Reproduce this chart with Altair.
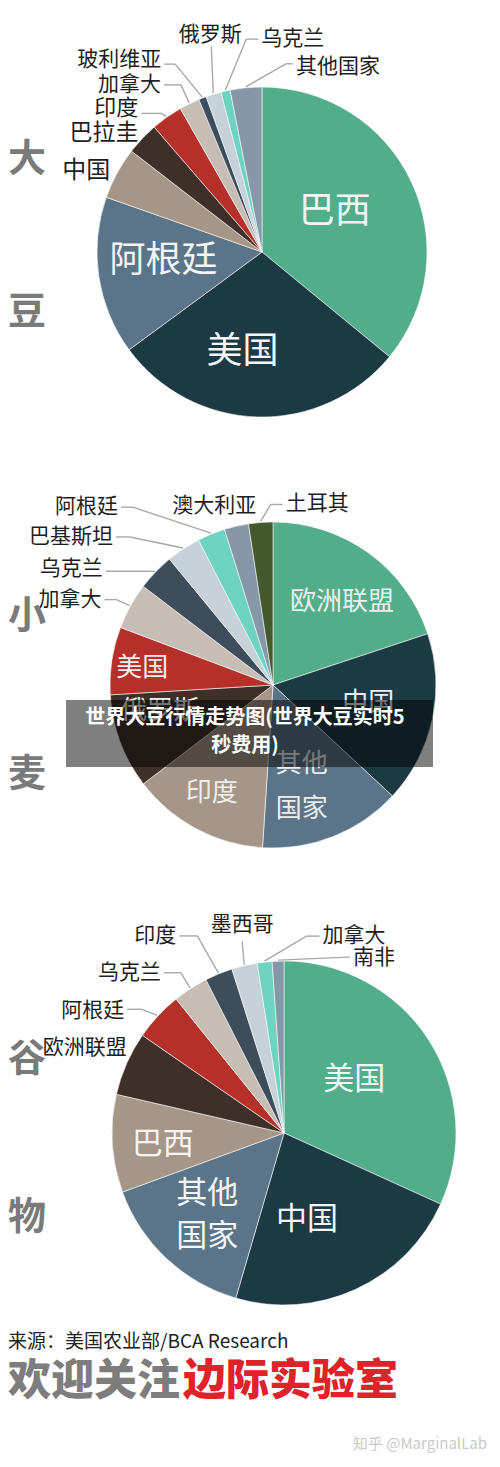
import altair as alt
import pandas as pd

OFF = 8
W, H = 484, 1451
FONT = "Noto Sans CJK SC"
LINE = "#a9a9a9"
DARK = "#1e1e1e"

PALETTE = ["#52ae8a", "#1c3a43", "#5a7489", "#a69687", "#3e3028", "#b6302a",
           "#c6bdb5", "#3e4d5b", "#c6d1d9", "#6fd3c1", "#8597a8", "#43592e"]

# ---------------- data ----------------
side_titles = ["大豆", "小麦", "谷物"]

soy_names = ["巴西", "美国", "阿根廷", "中国", "巴拉圭", "印度", "加拿大",
             "玻利维亚", "俄罗斯", "乌克兰", "其他国家"]
soy_values = [36.0, 29.0, 15.5, 5.1, 3.2, 3.1, 2.0, 0.75, 1.5, 0.9, 3.1]

wheat_names = ["欧洲联盟", "中国", "其他国家", "印度", "俄罗斯", "美国", "加拿大",
               "乌克兰", "巴基斯坦", "阿根廷", "澳大利亚", "土耳其"]
wheat_values = [19.9, 17.0, 14.1, 13.6, 9.4, 6.7, 4.6, 3.7, 3.4, 2.75, 2.4, 2.4]

grain_names = ["美国", "中国", "其他国家", "巴西", "欧洲联盟", "阿根廷", "乌克兰",
               "印度", "墨西哥", "加拿大", "南非"]
grain_values = [31.8, 22.75, 14.9, 9.2, 6.0, 4.6, 3.3, 2.6, 2.4, 1.4, 1.1]

source_text = "来源：美国农业部/BCA Research"
follow_grey = "欢迎关注"
follow_red = "边际实验室"
watermark = "知乎 @MarginalLab"
banner_text = "世界大豆行情走势图(世界大豆实时5|秒费用)"

# ---------------- layout (positions / styles only) ----------------
PIES = [
    dict(names=soy_names, values=soy_values, cx=262, cy=252, R=165,
         title=(27, 160, 313), in_size=36, out_size=21, in_color="#f5f5f5",
         inside={"巴西": (83, -3.5, None, None), "美国": (102, 9.5, None, None),
                 "阿根廷": (99, 3.5, None, None)},
         outside={
             "中国": dict(e=None, lx=-6, dy=-2, align="right", size=24),
             "巴拉圭": dict(e=None, lx=-3, dy=-5, align="right", size=23),
             "印度": dict(e=(-5, -3), lx=-28, dy=-5, align="right", size=22),
             "加拿大": dict(e=(-8, -18), lx=-28, dy=0, align="right"),
             "玻利维亚": dict(e=(-27, -33), lx=-41, dy=-4, align="right"),
             "俄罗斯": dict(e=(-2, -47), lx=-3, dy=-11, align="center"),
             "乌克兰": dict(e=(21, -51), lx=36, dy=0, align="left"),
             "其他国家": dict(e=(40, -23), lx=50, dy=3, align="left"),
         }),
    dict(names=wheat_names, values=wheat_values, cx=273, cy=685, R=163,
         title=(27, 617, 775), in_size=26, out_size=21, in_color="#eeeeee",
         inside={"欧洲联盟": (108, 3.9, None, None), "中国": (97, -1.5, None, None),
                 "其他国家": (106, 5.9, 2, 45), "印度": (124, 1.4, None, None),
                 "俄罗斯": (116, 7.5, None, None), "美国": (132, -1.1, None, None)},
         outside={
             "加拿大": dict(e=(-13, -6), lx=-28, dy=0, align="right"),
             "乌克兰": dict(e=(-5, 0), lx=-52, dy=-2, align="right"),
             "巴基斯坦": dict(e=(-53, -11), lx=-70, dy=0, align="right"),
             "阿根廷": dict(e=(-78, -26), lx=-93, dy=0, align="right"),
             "澳大利亚": dict(e=None, lx=-22, dy=-19, align="center"),
             "土耳其": dict(e=(10, -17), lx=25, dy=0, align="left"),
         }),
    dict(names=grain_names, values=grain_values, cx=284, cy=1133, R=172,
         title=(27, 1060, 1218), in_size=31, out_size=21, in_color="#f5f5f5",
         inside={"美国": (88, -4.3, None, None), "中国": (90, 9.8, None, None),
                 "其他国家": (113, -0.3, 2, 43), "巴西": (122, -2.3, None, None)},
         outside={
             "欧洲联盟": dict(e=None, lx=1, dy=-15, align="right"),
             "阿根廷": dict(e=(-15, -6), lx=-33, dy=2, align="right"),
             "乌克兰": dict(e=(-9, -15), lx=-29, dy=0, align="right"),
             "印度": dict(e=(-21, -37), lx=-42, dy=0, align="right"),
             "墨西哥": dict(e=(-2, -23), lx=-2, dy=-17, align="center"),
             "加拿大": dict(e=(42, -25), lx=58, dy=0, align="left"),
             "南非": dict(e=(70, -3), lx=75, dy=1, align="left"),
         }),
]

color_scale = alt.Scale(domain=list(range(len(PALETTE))), range=PALETTE)


def X(f):
    return alt.X(f, scale=None, axis=None)


def Y(f):
    return alt.Y(f, scale=None, axis=None)


def pie_df(names, values):
    return pd.DataFrame({"country": names, "value": values,
                         "rank": list(range(len(names)))})


def base(df):
    return (alt.Chart(df)
            .transform_joinaggregate(total="sum(value)")
            .transform_window(cum="sum(value)", sort=[alt.SortField("rank")])
            .transform_calculate(mid="2*PI*(datum.cum - datum.value/2)/datum.total"))


def inside_layer(df, cx, cy, country, r, da, size, color, split, lh):
    shift = lh / 2 if split else 0
    b = (base(df).transform_filter(alt.datum.country == country)
         .transform_calculate(a=f"datum.mid + ({da})*PI/180")
         .transform_calculate(tx=f"{cx - OFF} + {r}*sin(datum.a)",
                              ty=f"{cy - OFF} - {r}*cos(datum.a) - {shift}"))
    mk = {}
    if split:
        b = b.transform_calculate(
            lab=f"substring(datum.country,0,{split}) + '|' + substring(datum.country,{split})")
        mk = dict(lineBreak="|", lineHeight=lh)
    else:
        b = b.transform_calculate(lab="datum.country")
    return b.mark_text(align="center", baseline="middle", fontSize=size, color=color,
                       font=FONT, **mk).encode(x=X("tx:Q"), y=Y("ty:Q"), text="lab:N")


def outside_layers(df, cx, cy, R, country, spec, size):
    e = spec["e"]
    ex, ey = e if e else (0, 0)
    align = spec["align"]
    size = spec.get("size", size)
    b = (base(df).transform_filter(alt.datum.country == country)
         .transform_calculate(x0=f"{cx - OFF} + {R + 1}*sin(datum.mid)",
                              y0=f"{cy - OFF} - {R + 1}*cos(datum.mid)")
         .transform_calculate(x1=f"datum.x0 + ({ex})", y1=f"datum.y0 + ({ey})",
                              tx=f"datum.x0 + ({spec['lx']})",
                              ty=f"datum.y0 + ({ey + spec['dy']})"))
    out = []
    if e:
        if align == "left":
            endx = "datum.tx - 3"
        elif align == "right":
            endx = "datum.tx + 3"
        else:
            endx = "datum.x1"
        b2 = b.transform_calculate(x2=endx)
        out.append(b2.mark_rule(color=LINE, strokeWidth=1.4).encode(
            x=X("x0:Q"), y=Y("y0:Q"), x2="x1:Q", y2="y1:Q"))
        out.append(b2.mark_rule(color=LINE, strokeWidth=1.4).encode(
            x=X("x1:Q"), y=Y("y1:Q"), x2="x2:Q", y2="y1:Q"))
    out.append(b.mark_text(align=align, baseline="middle", fontSize=size, color=DARK,
                           font=FONT).encode(x=X("tx:Q"), y=Y("ty:Q"), text="country:N"))
    return out


def one_text(text, x, y, size, color, align="left", weight="normal", **kw):
    return alt.Chart(pd.DataFrame({"t": [text]})).mark_text(
        align=align, baseline="middle", fontSize=size, color=color, font=FONT,
        fontWeight=weight, **kw).encode(x=alt.value(x - OFF), y=alt.value(y - OFF), text="t:N")


layers = []
for p, title in zip(PIES, side_titles):
    df = pie_df(p["names"], p["values"])
    layers.append(alt.Chart(df).mark_arc(outerRadius=p["R"], stroke="#ffffff",
                                         strokeWidth=0.7, strokeOpacity=0.8).encode(
        theta=alt.Theta("value:Q", stack="normalize"),
        color=alt.Color("rank:O", scale=color_scale, legend=None),
        order=alt.Order("rank:Q"),
        x=alt.value(p["cx"] - OFF), y=alt.value(p["cy"] - OFF)))
    for c, (r, da, split, lh) in p["inside"].items():
        layers.append(inside_layer(df, p["cx"], p["cy"], c, r, da, p["in_size"],
                                   p["in_color"], split, lh))
    for c, spec in p["outside"].items():
        layers += outside_layers(df, p["cx"], p["cy"], p["R"], c, spec, p["out_size"])
    tx, ty1, ty2 = p["title"]
    for ch, ty in zip(title, (ty1, ty2)):
        layers.append(one_text(ch, tx, ty, 38, "#7a7a7a", align="center", weight="bold"))

# footer texts
layers.append(one_text(source_text, 8, 1342, 19, "#222222"))
layers.append(one_text(follow_grey, 8, 1382, 43, "#7d7d7d", weight=900))
layers.append(one_text(follow_red, 183, 1382, 43, "#e0222a", weight=900))
layers.append(one_text(watermark, 487, 1444, 15, "#c9c9c9", align="right"))

# overlay banner
layers.append(alt.Chart(pd.DataFrame({"t": [0]})).mark_rect(color="#000000", opacity=0.5).encode(
    x=alt.value(66 - OFF), x2=alt.value(433 - OFF), y=alt.value(700 - OFF), y2=alt.value(767 - OFF)))
layers.append(one_text(banner_text, 245, 718, 20, "#ffffff", align="center", weight="bold",
                       lineBreak="|", lineHeight=28))

chart = alt.layer(*layers).properties(
    width=W, height=H, padding=0, autosize=alt.AutoSizeParams(type="none"),
    background="#ffffff",
).configure_view(stroke=None)

chart.save("out.html", embed_options={"renderer": "svg", "actions": False})
